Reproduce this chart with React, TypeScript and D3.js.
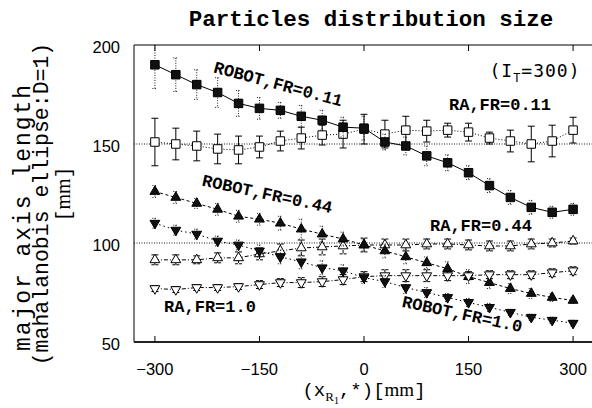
import * as d3 from "d3";

// x positions of the samples
const xs = [-300, -270, -240, -210, -180, -150, -120, -90, -60, -30, 0, 30, 60, 90, 120, 150, 180, 210, 240, 270, 300];

const robot011 = [190, 185, 180, 176, 170.5, 168, 167, 164, 162, 158.5, 158, 151, 149, 144, 140.5, 135.5, 129, 123, 118, 115.5, 117];
const robot011Err = [12, 8.5, 7.5, 7.5, 6.5, 5.5, 4, 5.5, 5, 5, 6, 4, 4.5, 5, 4, 3.5, 3.5, 3.5, 3.5, 3, 3];
const ra011 = [151, 150, 149, 147.5, 147, 148.5, 151.5, 153, 154.5, 155, 157.5, 155, 157, 156.5, 157, 156, 153, 151.5, 150, 151.5, 157];
const ra011Err = [12, 8, 7.5, 7.5, 7, 5.5, 5, 5.5, 5, 7, 7.5, 7, 7, 5.5, 3.5, 4.5, 3, 5.5, 9, 8, 6.5];
const robot044 = [126, 123, 120, 117, 113.5, 112, 110, 107, 104.5, 102, 99, 96, 93, 90, 87, 83, 80, 77, 74.5, 72.5, 71];
const robot044Err = [3, 3, 2.5, 3, 3, 3, 3.5, 5, 4, 3.5, 3, 3.5, 3.5, 3, 3.5, 3.5, 3, 2.5, 2.5, 2, 1.5];
const ra044 = [91.5, 91.5, 91.5, 92.5, 92.5, 94.5, 96, 97.5, 98, 98.5, 99, 99, 99, 99.5, 99.5, 99, 98.5, 98.5, 99.5, 100, 101];
const ra044Err = [2.5, 2.5, 2, 2.5, 3, 3, 3.5, 4, 4, 4, 3.5, 3, 3, 2.5, 2.5, 2.5, 2.5, 2.5, 2.5, 2, 1.5];
const robot10 = [110, 106.5, 104.5, 101, 99, 96, 93, 90.5, 87.5, 86, 82.5, 80.5, 77.5, 75, 72.5, 70, 67.5, 65, 62.5, 61, 59.5];
const robot10Err = [2.5, 2.5, 2.5, 2.5, 2.5, 3, 3.5, 3.5, 3.5, 3, 3, 3, 3, 2.5, 2, 2, 2, 1.5, 1.5, 1.5, 1.5];
const ra10 = [77, 76.5, 77.5, 77.5, 78, 79, 80, 80, 80.5, 81.5, 83, 83.5, 83.5, 83.5, 83.5, 83.5, 84, 84, 84, 85, 86];
const ra10Err = [1.5, 1.5, 1.5, 1.5, 1.5, 2, 2, 2.5, 2.5, 2.5, 2.5, 3, 3, 3, 2.5, 2, 2, 2, 2, 2, 2];

const xTicks = [-300, -150, 0, 150, 300];
const yTicks = [50, 100, 150, 200];
const refLines = [100, 150];

const W = 592;
const H = 408;
const mono = "'Liberation Mono', 'DejaVu Sans Mono', monospace";
const sans = "'Liberation Sans', Arial, sans-serif";

type Series = {
  vals: number[];
  errs: number[];
  shape: "square" | "up" | "down";
  filled: boolean;
  dash: string;
  errDash: string;
};

const series: Series[] = [
  { vals: ra011, errs: ra011Err, shape: "square", filled: false, dash: "1,2", errDash: "none" },
  { vals: robot011, errs: robot011Err, shape: "square", filled: true, dash: "none", errDash: "1,1.5" },
  { vals: ra044, errs: ra044Err, shape: "up", filled: false, dash: "4,2,1,2", errDash: "3,1" },
  { vals: robot044, errs: robot044Err, shape: "up", filled: true, dash: "3,2.5", errDash: "1,1.5" },
  { vals: ra10, errs: ra10Err, shape: "down", filled: false, dash: "4,2,1,2", errDash: "3,1" },
  { vals: robot10, errs: robot10Err, shape: "down", filled: true, dash: "1.5,3", errDash: "1,1.5" },
];

const labels = [
  { text: "ROBOT,FR=0.11", x: 278, y: 85, rot: 15 },
  { text: "RA,FR=0.11", x: 500, y: 105, rot: 0 },
  { text: "ROBOT,FR=0.44", x: 267, y: 195, rot: 12 },
  { text: "RA,FR=0.44", x: 481, y: 226, rot: 0 },
  { text: "RA,FR=1.0", x: 210, y: 307, rot: 0 },
  { text: "ROBOT,FR=1.0", x: 462, y: 315, rot: 12 },
];

export default function App() {
  const x = d3.scaleLinear().domain([-330, 330]).range([134, 594]);
  const y = d3.scaleLinear().domain([50, 200]).range([342, 45]);
  const [x0, x1] = x.range();
  const [y0, y1] = y.range();

  const sq = d3.symbol(d3.symbolSquare, 72)()!;
  const tri = d3.symbol(d3.symbolTriangle, 42)()!;

  const line = d3
    .line<number>()
    .x((_, i) => x(xs[i]))
    .y((d) => y(d));

  return (
    <svg width={W} height={H} style={{ position: "absolute", left: 0, top: 0, background: "#fff" }}>
      <text x={371} y={26} textAnchor="middle" fontFamily={mono} fontWeight="bold" fontSize={22.5}>
        Particles distribution size
      </text>

      {/* reference lines */}
      {refLines.map((v) => (
        <line key={v} x1={x0} x2={x1} y1={y(v)} y2={y(v)} stroke="#000" strokeWidth={0.9} strokeDasharray="1,1.5" />
      ))}

      {/* series */}
      {series.map((s, si) => (
        <g key={si}>
          <path d={line(s.vals)!} fill="none" stroke="#000" strokeWidth={1} strokeDasharray={s.dash} />
          {s.vals.map((v, i) => {
            const cx = x(xs[i]);
            const top = y(v + s.errs[i]);
            const bot = y(v - s.errs[i]);
            const cap = s.filled ? 2.5 : 3.5;
            return (
              <g key={i} stroke="#000" strokeWidth={s.filled ? 0.9 : 1} strokeDasharray={s.errDash}>
                <line x1={cx} x2={cx} y1={Math.max(top, y1)} y2={bot} />
                {top >= y1 && <line x1={cx - cap} x2={cx + cap} y1={top} y2={top} />}
                <line x1={cx - cap} x2={cx + cap} y1={bot} y2={bot} />
              </g>
            );
          })}
          {s.vals.map((v, i) => (
            <path
              key={"m" + i}
              d={s.shape === "square" ? sq : tri}
              transform={`translate(${x(xs[i])},${y(v)})${s.shape === "down" ? " rotate(180)" : ""}`}
              fill={s.filled ? "#111" : "#fff"}
              stroke="#000"
              strokeWidth={1}
            />
          ))}
        </g>
      ))}

      {/* frame */}
      <line x1={x0} x2={x1} y1={y1} y2={y1} stroke="#000" strokeWidth={1} />
      <line x1={x0} x2={x0} y1={y1} y2={y0} stroke="#000" strokeWidth={1} />
      <line x1={x0} x2={x1} y1={y0} y2={y0} stroke="#222" strokeWidth={2} />

      {/* x ticks */}
      {xTicks.map((t) => (
        <g key={t}>
          <line x1={x(t)} x2={x(t)} y1={y0} y2={y0 - 6} stroke="#000" strokeWidth={1} />
          <line x1={x(t)} x2={x(t)} y1={y1} y2={y1 + 6} stroke="#000" strokeWidth={1} />
          <text x={x(t)} y={375} textAnchor="middle" fontFamily={sans} fontSize={16.5}>
            {t < 0 ? "\u2212" + Math.abs(t) : t}
          </text>
        </g>
      ))}

      {/* y ticks */}
      {yTicks.map((t) => (
        <text key={t} x={120} y={y(t) + 8} textAnchor="end" fontFamily={sans} fontSize={16.5}>
          {t}
        </text>
      ))}

      {/* y label */}
      <g fontFamily={mono}>
        <text transform="translate(30,218) rotate(-90)" textAnchor="middle" fontSize={23} textLength={266} lengthAdjust="spacing">
          major axis length
        </text>
        <text transform="translate(48,204) rotate(-90)" textAnchor="middle" fontSize={21.5}>
          (mahalanobis ellipse:D=1)
        </text>
        <text transform="translate(70,194) rotate(-90)" textAnchor="middle" fontSize={20}>
          [<tspan fontFamily="'Liberation Serif', serif">mm</tspan>]
        </text>
      </g>

      {/* x label */}
      <text x={364} y={396} textAnchor="middle" fontFamily={mono} fontSize={19}>
        (x
        <tspan fontSize={13} dy={5} fontFamily="'Liberation Serif', serif">R</tspan>
        <tspan fontSize={10} dy={3} fontFamily="'Liberation Serif', serif">1</tspan>
        <tspan dy={-8}>,*)[</tspan>
        <tspan fontFamily="'Liberation Serif', serif">mm</tspan>]
      </text>

      {/* I_T annotation */}
      <text x={535} y={77} textAnchor="middle" fontFamily="'DejaVu Sans Mono', monospace" fontSize={18} letterSpacing={1}>
        (I<tspan fontSize={12} dy={5}>T</tspan>
        <tspan dy={-5}>=300)</tspan>
      </text>

      {/* series labels */}
      {labels.map((l) => (
        <text
          key={l.text}
          x={l.x}
          y={l.y}
          textAnchor="middle"
          dominantBaseline="central"
          fontFamily={mono}
          fontWeight="bold"
          fontSize={17}
          transform={`rotate(${l.rot},${l.x},${l.y})`}
        >
          {l.text}
        </text>
      ))}
    </svg>
  );
}
